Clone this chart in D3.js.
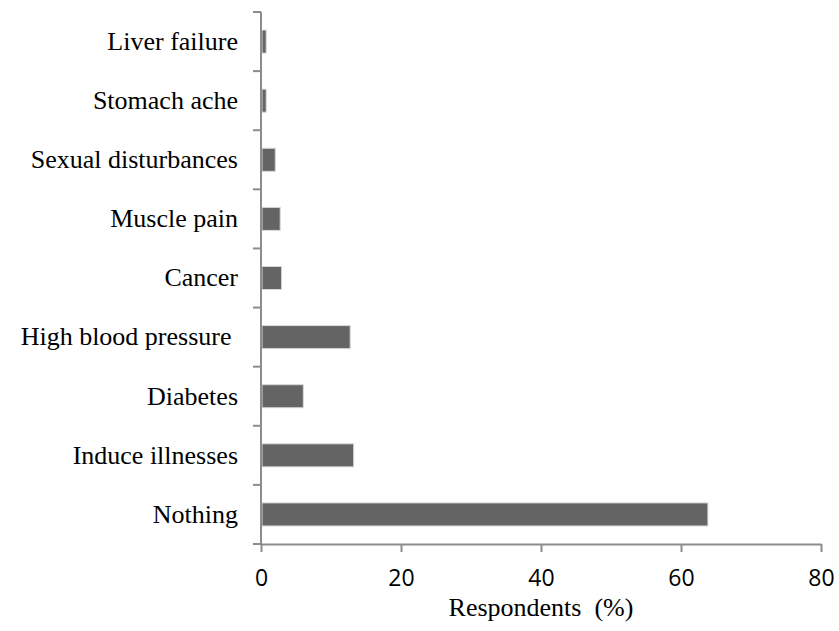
<!DOCTYPE html>
<html>
<head>
<meta charset="utf-8">
<script src="https://cdn.jsdelivr.net/npm/d3@7"></script>
<style>
  body { margin: 0; background: #fff; }
  text { white-space: pre; }
  .serif { font-family: "Liberation Serif", "DejaVu Serif", serif; }
</style>
</head>
<body>
<div id="chart"></div>
<script>
// categories, top to bottom as in the picture
const categories = ["Liver failure", "Stomach ache", "Sexual disturbances", "Muscle pain",
  "Cancer", "High blood pressure ", "Diabetes", "Induce illnesses", "Nothing"];
const values = [0.6, 0.6, 1.9, 2.6, 2.8, 12.6, 5.9, 13.1, 63.7];
const xTicks = [0, 20, 40, 60, 80];
const xTitle = "Respondents  (%)";

const width = 839, height = 631;
const margin = { top: 12, right: 18, bottom: 87, left: 261 };

const data = categories.map((c, i) => ({ name: c, value: values[i] }));

const svg = d3.select("#chart").append("svg")
  .attr("width", width)
  .attr("height", height);

const x = d3.scaleLinear()
  .domain([0, 80])
  .range([margin.left, margin.left + 560]);

const y = d3.scaleBand()
  .domain(categories)
  .range([margin.top, height - margin.bottom])
  .paddingInner(0.61)
  .paddingOuter(0.305);

const axisColor = "#8c8c8c";

// bars
svg.append("g")
  .selectAll("rect")
  .data(data)
  .join("rect")
  .attr("x", x(0) + 1)
  .attr("y", d => y(d.name))
  .attr("width", d => x(d.value) - x(0))
  .attr("height", y.bandwidth())
  .attr("fill", "#646464")
  .attr("stroke", "#d9d9d9")
  .attr("stroke-width", 1);

// y axis line and ticks between categories
const yAxis = svg.append("g").attr("stroke", axisColor).attr("stroke-width", 2);
yAxis.append("line")
  .attr("x1", x(0)).attr("x2", x(0))
  .attr("y1", margin.top).attr("y2", height - margin.bottom);
const step = y.step();
d3.range(categories.length + 1).forEach(i => {
  const yy = margin.top + i * step;
  yAxis.append("line")
    .attr("x1", x(0) - 8).attr("x2", x(0))
    .attr("y1", yy).attr("y2", yy);
});

// category labels
svg.append("g")
  .selectAll("text")
  .data(categories)
  .join("text")
  .attr("class", "serif")
  .attr("x", 238)
  .attr("y", d => y(d) + y.bandwidth() / 2)
  .attr("dy", "0.32em")
  .attr("text-anchor", "end")
  .attr("font-size", 26)
  .attr("fill", "#000")
  .text(d => d);

// x axis
const xAxis = d3.axisBottom(x)
  .tickValues(xTicks)
  .tickSize(8)
  .tickPadding(18)
  .tickSizeOuter(0);

const gx = svg.append("g")
  .attr("transform", `translate(0,${height - margin.bottom})`)
  .call(xAxis);
gx.select(".domain").attr("stroke", axisColor).attr("stroke-width", 2);
gx.selectAll(".tick line").attr("stroke", axisColor).attr("stroke-width", 2);
gx.selectAll(".tick text")
  .attr("font-family", "'Open Sans', 'Noto Sans', sans-serif")
  .attr("font-size", 23)
  .attr("fill", "#000");

svg.append("text")
  .attr("class", "serif")
  .attr("x", (x(0) + x(80)) / 2)
  .attr("y", 616)
  .attr("text-anchor", "middle")
  .attr("font-size", 26)
  .attr("fill", "#000")
  .text(xTitle);
</script>
</body>
</html>
